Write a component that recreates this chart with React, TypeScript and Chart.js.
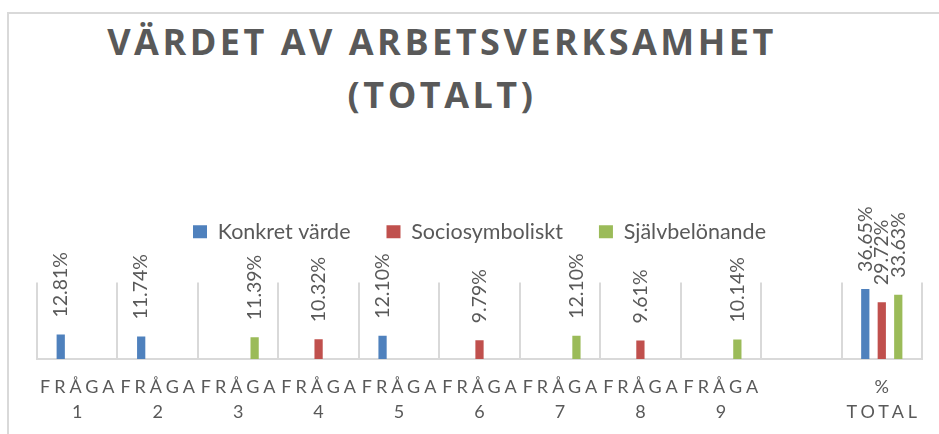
import React, { useEffect, useRef } from "react";
import { Chart, registerables } from "chart.js";

Chart.register(...registerables);

const titleText = "VÄRDET AV ARBETSVERKSAMHET (TOTALT)";
const categories = [
  "FRÅGA 1", "FRÅGA 2", "FRÅGA 3", "FRÅGA 4", "FRÅGA 5",
  "FRÅGA 6", "FRÅGA 7", "FRÅGA 8", "FRÅGA 9", "", "% TOTAL",
];
const seriesNames = ["Konkret värde", "Sociosymboliskt", "Självbelönande"];
const konkretVarde = [12.81, 11.74, null, null, 12.1, null, null, null, null, null, 36.65];
const sociosymboliskt = [null, null, null, 10.32, null, 9.79, null, 9.61, null, null, 29.72];
const sjalvbelonande = [null, null, 11.39, null, null, null, 12.1, null, 10.14, null, 33.63];
const yMin = 0;
const yMax = 40;

const seriesColors = ["#4f81bd", "#c0504d", "#9bbb59"];
const textColor = "#595959";
const FONT = "Lato, 'Open Sans', sans-serif";

const dataLabelPlugin = {
  id: "dataLabels",
  afterDatasetsDraw(chart: any) {
    const ctx = chart.ctx;
    ctx.save();
    ctx.font = `19.5px ${FONT}`;
    ctx.fillStyle = textColor;
    ctx.textAlign = "left";
    ctx.textBaseline = "middle";
    chart.data.datasets.forEach((ds: any, di: number) => {
      const meta = chart.getDatasetMeta(di);
      meta.data.forEach((el: any, i: number) => {
        const v = ds.data[i];
        if (v === null || v === undefined) return;
        ctx.save();
        ctx.translate(el.x, el.y - 17);
        ctx.rotate(-Math.PI / 2);
        ctx.fillText(`${v.toFixed(2)}%`, 0, 0);
        ctx.restore();
      });
    });
    ctx.restore();
  },
};

const xLabelPlugin = {
  id: "xLabels",
  afterDraw(chart: any) {
    const ctx = chart.ctx;
    const xs = chart.scales.x;
    const bottom = chart.chartArea.bottom;
    const ls = 4;
    ctx.save();
    ctx.font = `18px ${FONT}`;
    ctx.fillStyle = textColor;
    ctx.textAlign = "left";
    ctx.textBaseline = "middle";
    (ctx as any).letterSpacing = `${ls}px`;
    categories.forEach((cat, i) => {
      const cx = xs.getPixelForValue(i);
      const lines = cat.split(" ");
      lines.forEach((line, li) => {
        if (!line) return;
        const w = ctx.measureText(line).width - ls;
        ctx.fillText(line, cx - w / 2, bottom + 28 + li * 25);
      });
    });
    ctx.restore();
  },
};

export default function App() {
  const canvasRef = useRef<HTMLCanvasElement | null>(null);

  useEffect(() => {
    if (!canvasRef.current) return;
    const values = [konkretVarde, sociosymboliskt, sjalvbelonande];
    const chart = new Chart(canvasRef.current, {
      type: "bar",
      data: {
        labels: categories,
        datasets: seriesNames.map((name, i) => ({
          label: name,
          data: values[i],
          backgroundColor: seriesColors[i],
          borderWidth: 0,
          categoryPercentage: 0.615,
          barPercentage: 0.5,
        })),
      },
      options: {
        animation: false,
        responsive: false,
        events: [],
        layout: { padding: { top: 185, left: 37, right: 17, bottom: 75 } },
        plugins: {
          title: { display: false },
          tooltip: { enabled: false },
          legend: {
            display: true,
            position: "top",
            labels: {
              boxWidth: 14,
              boxHeight: 13,
              padding: 36,
              color: textColor,
              font: { family: FONT, size: 21.5 },
            },
          },
          subtitle: {
            display: true,
            text: "",
            position: "top",
            weight: 500,
            font: { size: 1, lineHeight: 1 },
            padding: { top: 0, bottom: 29 },
          } as any,
        },
        scales: {
          x: {
            display: true,
            grid: {
              offset: true,
              color: "#d9d9d9",
              lineWidth: 2,
              drawTicks: false,
            },
            border: { color: "#d9d9d9", width: 2 },
            ticks: { display: false },
          },
          y: {
            display: false,
            min: yMin,
            max: yMax,
          },
        },
      },
      plugins: [dataLabelPlugin, xLabelPlugin],
    });
    return () => chart.destroy();
  }, []);

  return (
    <div
      style={{
        position: "absolute",
        left: 0,
        top: 0,
        width: 939,
        height: 434,
        overflow: "hidden",
        background: "#ffffff",
      }}
    >
      <div
        style={{
          position: "absolute",
          left: 7,
          top: 12,
          width: 1000,
          height: 600,
          border: "2px solid #d9d9d9",
          boxSizing: "border-box",
        }}
      />
      <div
        style={{
          position: "absolute",
          left: 60,
          top: 15,
          width: 764,
          textAlign: "center",
          fontFamily: "'Open Sans', sans-serif",
          fontWeight: 700,
          fontSize: 36,
          lineHeight: "53px",
          letterSpacing: "3.5px",
          color: textColor,
        }}
      >
        {titleText}
      </div>
      <canvas
        ref={canvasRef}
        width={939}
        height={434}
        style={{ position: "absolute", left: 0, top: 0, width: 939, height: 434 }}
      />
    </div>
  );
}
